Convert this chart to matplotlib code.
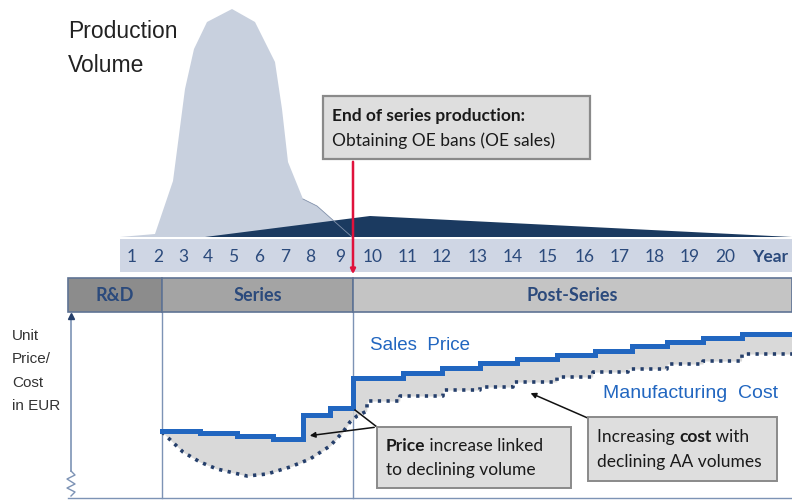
import numpy as np
import matplotlib.pyplot as plt
from matplotlib.patches import Rectangle

# Figure is laid out in pixel units of the 792x502 reference (y grows downwards)

# Production volume silhouette (x, y) of the outline
vol_x = [120, 155, 173, 185, 194, 207, 232, 255, 275, 282, 288, 303, 317, 352]
vol_y = [238, 235, 182, 90, 50, 23, 10, 23, 63, 110, 163, 200, 207, 238]
# After-sales volume wedge
aa_x = [205, 370, 792]
aa_y = [238, 217, 238]

# Year ticks
years = ['1', '2', '3', '4', '5', '6', '7', '8', '9', '10', '11', '12', '13',
         '14', '15', '16', '17', '18', '19', '20']
year_x = [132, 158, 183, 208, 233, 259, 285, 310, 340, 373, 408, 442, 478,
          513, 548, 585, 620, 655, 690, 725]

# Phases
phases = ['R&D', 'Series', 'Post-Series']
phase_edges = [68, 162, 353, 792]
phase_colors = ['#8c8c8c', '#a4a4a4', '#c4c4c4']

# Sales price (step breakpoints and level of each step)
price_series_x = [162, 200, 237, 273, 303, 330, 353]
price_series_y = [432, 434, 437, 440, 416, 409]
price_post_x = [353, 403, 442, 480, 517, 557, 595, 632, 667, 703, 742, 792]
price_post_y = [379, 374, 369, 364, 360, 356, 352, 347, 343, 339, 335]

# Manufacturing cost
cost_series_x = [162, 183, 200, 217, 247, 267, 290, 310, 330, 343, 350, 357, 367, 367]
cost_series_y = [433, 453, 463, 470, 477, 475, 468, 460, 447, 433, 423, 417, 412, 402]
cost_post_x = [367, 400, 443, 480, 513, 557, 593, 628, 667, 703, 742, 792]
cost_post_y = [402, 397, 391, 388, 383, 378, 373, 370, 365, 362, 355]

BLUE = '#2166c0'
NAVY = '#253f6b'
TEXT_NAVY = '#2b4a7c'
INK = '#1a1a1a'


def steps(xs, ys):
    px, py = [], []
    for i, y in enumerate(ys):
        px += [xs[i], xs[i + 1]]
        py += [y, y]
    return np.array(px), np.array(py)


def rich_line(ax, x, y, parts, **kw):
    # parts: list of (text, bold) drawn one after the other
    r = ax.figure.canvas.get_renderer()
    inv = ax.transData.inverted()
    for s, bold in parts:
        t = ax.text(x, y, s, weight='bold' if bold else 'normal', va='center', **kw)
        bb = t.get_window_extent(renderer=r)
        x = inv.transform((bb.x1, bb.y0))[0]


fig = plt.figure(figsize=(7.92, 5.02), dpi=100)
ax = fig.add_axes([0, 0, 1, 1])
ax.set_xlim(0, 792)
ax.set_ylim(502, 0)
ax.axis('off')

# production volume
ax.fill(vol_x, vol_y, color='#c8d0de', lw=0, zorder=1)
ax.fill(aa_x, aa_y, color='#1b3a60', lw=0, zorder=2)
ax.plot(vol_x[-3:], vol_y[-3:], color='#8090aa', lw=0.6, zorder=3)
ax.text(68, 32, 'Production', fontsize=16.5, family='Liberation Sans',
        color='#222222', va='center')
ax.text(68, 65, 'Volume', fontsize=16.5, family='Liberation Sans',
        color='#222222', va='center')

# year band
ax.add_patch(Rectangle((120, 240), 672, 33, color='#cfd6e4', lw=0, zorder=2))
for lab, x in zip(years, year_x):
    ax.text(x, 257, lab, fontsize=12.5, family='Lato', color=TEXT_NAVY,
            ha='center', va='center', zorder=4)
ax.text(752, 257, 'Year', fontsize=12.5, family='Lato', weight='bold',
        color=TEXT_NAVY, ha='left', va='center', zorder=4)

# phase header
for i, lab in enumerate(phases):
    x0, x1 = phase_edges[i], phase_edges[i + 1]
    ax.add_patch(Rectangle((x0, 279), x1 - x0, 34, facecolor=phase_colors[i],
                           edgecolor='#5f7394', lw=1.2, zorder=3))
    ax.text((x0 + x1) / 2, 296, lab, fontsize=13, family='Lato', weight='bold',
            color=TEXT_NAVY, ha='center', va='center', zorder=4)

# guide lines of the lower panel
for x in phase_edges[1:3]:
    ax.plot([x, x], [313, 499], color='#7d93b5', lw=1.0, zorder=1)
ax.plot([68, 792], [499, 499], color='#7d93b5', lw=1.0, zorder=1)
ax.plot([71, 71], [318, 472], color='#7d93b5', lw=1.2, zorder=2)
ax.plot([71], [317], marker='^', color=NAVY, ms=5, zorder=3)
zig_x = [71, 75, 67, 75, 67, 75, 71]
zig_y = [472, 476, 480, 485, 489, 493, 497]
ax.plot(zig_x, zig_y, color='#7d93b5', lw=1.0)
for i, t in enumerate(['Unit', 'Price/', 'Cost', 'in EUR']):
    ax.text(12, 336 + i * 23.5, t, fontsize=11, family='Liberation Sans',
            color='#333333', va='center')

# price / cost
ps_x, ps_y = steps(price_series_x, price_series_y)
pp_x, pp_y = steps(price_post_x, price_post_y)
cp_x, cp_y = steps(cost_post_x, cost_post_y)
cs_x = np.array(cost_series_x)
cs_y = np.array(cost_series_y)

# gray margin between price and cost
grid_s = np.linspace(162, 353, 400)
ax.fill_between(grid_s, np.interp(grid_s, ps_x, ps_y),
                np.interp(grid_s, cs_x[:-1], cs_y[:-1]),
                color='#d9d9d9', lw=0, zorder=2)
grid_p = np.linspace(353, 792, 800)
cost_lower = np.where(grid_p < 367, np.interp(grid_p, cs_x[:-1], cs_y[:-1]),
                      np.interp(grid_p, cp_x, cp_y))
ax.fill_between(grid_p, np.interp(grid_p, pp_x, pp_y), cost_lower,
                color='#d9d9d9', lw=0, zorder=2)

ax.plot(np.r_[ps_x, pp_x], np.r_[ps_y, pp_y], color=BLUE, lw=3.6,
        solid_joinstyle='miter', zorder=5)
ax.plot(np.r_[cs_x, cp_x], np.r_[cs_y, cp_y], color=NAVY, lw=2.6,
        ls=(0, (0.9, 1.5)), zorder=4)

ax.text(370, 346, 'Sales  Price', fontsize=13.5, family='Liberation Sans',
        color=BLUE, va='center')
ax.text(603, 394, 'Manufacturing  Cost', fontsize=14, family='Liberation Sans',
        color=BLUE, va='center')

# end of series marker
ax.annotate('', xy=(353, 278), xytext=(353, 160),
            arrowprops=dict(arrowstyle='-|>', color='#e0123c', lw=1.8,
                            mutation_scale=7), zorder=6)
ax.add_patch(Rectangle((323, 97), 267, 63, facecolor='#dedede',
                       edgecolor='#8a8a8a', lw=1.6, zorder=6))
ax.text(332, 116, 'End of series production:', fontsize=12.5, family='Lato',
        weight='bold', color=INK, va='center', zorder=7)
ax.text(332, 141, 'Obtaining OE bans (OE sales)', fontsize=12.5, family='Lato',
        color=INK, va='center', zorder=7)

# callouts
ax.plot([377, 355], [428, 411], color='#111111', lw=1.1, zorder=6)
ax.annotate('', xy=(307, 437), xytext=(377, 428),
            arrowprops=dict(arrowstyle='-|>', color='#111111', lw=1.1,
                            mutation_scale=8), zorder=6)
ax.add_patch(Rectangle((377, 428), 194, 61, facecolor='#dedede',
                       edgecolor='#8a8a8a', lw=1.4, zorder=6))
box_kw = dict(fontsize=12.5, family='Lato', color=INK, zorder=7)
rich_line(ax, 386, 446, [('Price', True), (' increase linked', False)], **box_kw)
rich_line(ax, 386, 470, [('to declining volume', False)], **box_kw)

ax.annotate('', xy=(528, 393), xytext=(590, 420),
            arrowprops=dict(arrowstyle='-|>', color='#111111', lw=1.1,
                            mutation_scale=8), zorder=6)
ax.add_patch(Rectangle((588, 418), 189, 64, facecolor='#dedede',
                       edgecolor='#8a8a8a', lw=1.4, zorder=6))
rich_line(ax, 597, 437, [('Increasing ', False), ('cost', True), (' with', False)],
          **box_kw)
rich_line(ax, 597, 462, [('declining AA volumes', False)], **box_kw)

fig.savefig('out.png', dpi=100)
